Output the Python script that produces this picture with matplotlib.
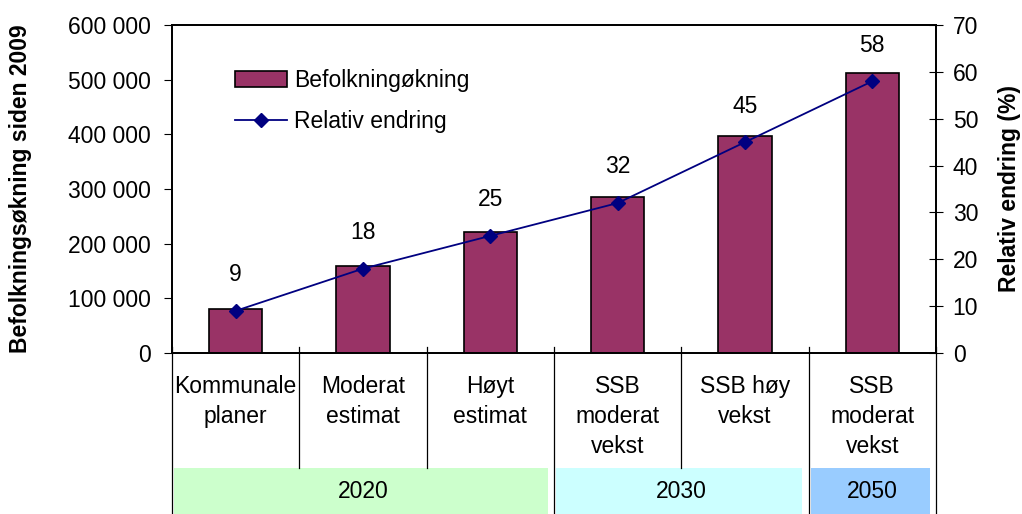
import numpy as np
import matplotlib.pyplot as plt
from matplotlib.lines import Line2D
from matplotlib.patches import Rectangle
from matplotlib.ticker import FuncFormatter
import matplotlib.transforms as mtransforms

plt.rcParams['font.family'] = ['Liberation Sans', 'DejaVu Sans']

# data
categories = ['Kommunale\nplaner', 'Moderat\nestimat', 'Høyt\nestimat',
              'SSB\nmoderat\nvekst', 'SSB høy\nvekst', 'SSB\nmoderat\nvekst']
growth = [80000, 159000, 221000, 285000, 397000, 512000]
rel_change = [9, 18, 25, 32, 45, 58]
groups = ['2020', '2030', '2050']
group_span = [(0, 3), (3, 5), (5, 6)]     # category index ranges
group_colors = ['#CCFFCC', '#CCFFFF', '#99CCFF']

FS = 16.5
W, H = 1022, 514
fig = plt.figure(figsize=(W / 100, H / 100), dpi=100)
ax = fig.add_axes([172 / W, 1 - 353 / H, (936 - 172) / W, (353 - 25) / H])
ax2 = ax.twinx()

x = np.arange(len(categories))
bars = ax.bar(x, growth, width=0.42, color='#993366', edgecolor='black',
              linewidth=1.2, label='Befolkningøkning', zorder=2)
line, = ax2.plot(x, rel_change, color='#000080', lw=1.3, marker='D',
                 markersize=7, label='Relativ endring', zorder=3)

for xi, v in zip(x, rel_change):
    ax2.annotate(str(v), (xi, v), xytext=(0, 26), textcoords='offset points',
                 ha='center', va='center', fontsize=FS)

ax.set_xlim(-0.5, len(categories) - 0.5)
ax.set_ylim(0, 600000)
ax2.set_ylim(0, 70)
ax.set_yticks(np.arange(0, 600001, 100000))
ax2.set_yticks(np.arange(0, 71, 10))
ax.yaxis.set_major_formatter(FuncFormatter(lambda v, p: f'{int(v):,}'.replace(',', ' ')))
ax.set_xticks([])
ax.tick_params(axis='y', labelsize=FS, length=6, width=0.8, pad=9)
ax2.tick_params(axis='y', labelsize=FS, length=10, width=0.8, pad=7, direction='inout')

for a in (ax, ax2):
    for s in a.spines.values():
        s.set_linewidth(1.3)

ax.set_ylabel('Befolkningsøkning siden 2009', fontsize=FS, fontweight='bold', labelpad=26)
ax2.set_ylabel('Relativ endring (%)', fontsize=FS, fontweight='bold', labelpad=14)

# legend without frame
ax2.legend([bars, line], ['Befolkningøkning', 'Relativ endring'], loc='upper left',
           bbox_to_anchor=(0.055, 0.93), frameon=False, fontsize=FS,
           handlelength=2.3, handletextpad=0.3, labelspacing=0.8)

# category table beneath the axis
trans = mtransforms.blended_transform_factory(ax.transData, fig.transFigure)
def fy(py):
    return 1 - py / H

boundaries = np.arange(len(categories) + 1) - 0.5
group_edges = {-0.5} | {e - 0.5 for s, e in group_span}
for b in boundaries:
    bottom = H if b in group_edges else 468
    fig.add_artist(Line2D([b, b], [fy(347), fy(bottom)], transform=trans,
                          color='black', lw=0.9))

for xi, lab in zip(x, categories):
    fig.text(xi, fy(375), lab, transform=trans, ha='center', va='top',
             fontsize=FS, linespacing=1.38)

for (s, e), g, c in zip(group_span, groups, group_colors):
    fig.add_artist(Rectangle((s - 0.5 + 0.015, fy(H)), (e - s) - 0.065, fy(468) - fy(H),
                             transform=trans, facecolor=c, edgecolor='none', zorder=0))
    fig.text((s + e - 1) / 2, fy(492), g, transform=trans, ha='center', va='center',
             fontsize=FS)

fig.savefig('out.png', dpi=100)
